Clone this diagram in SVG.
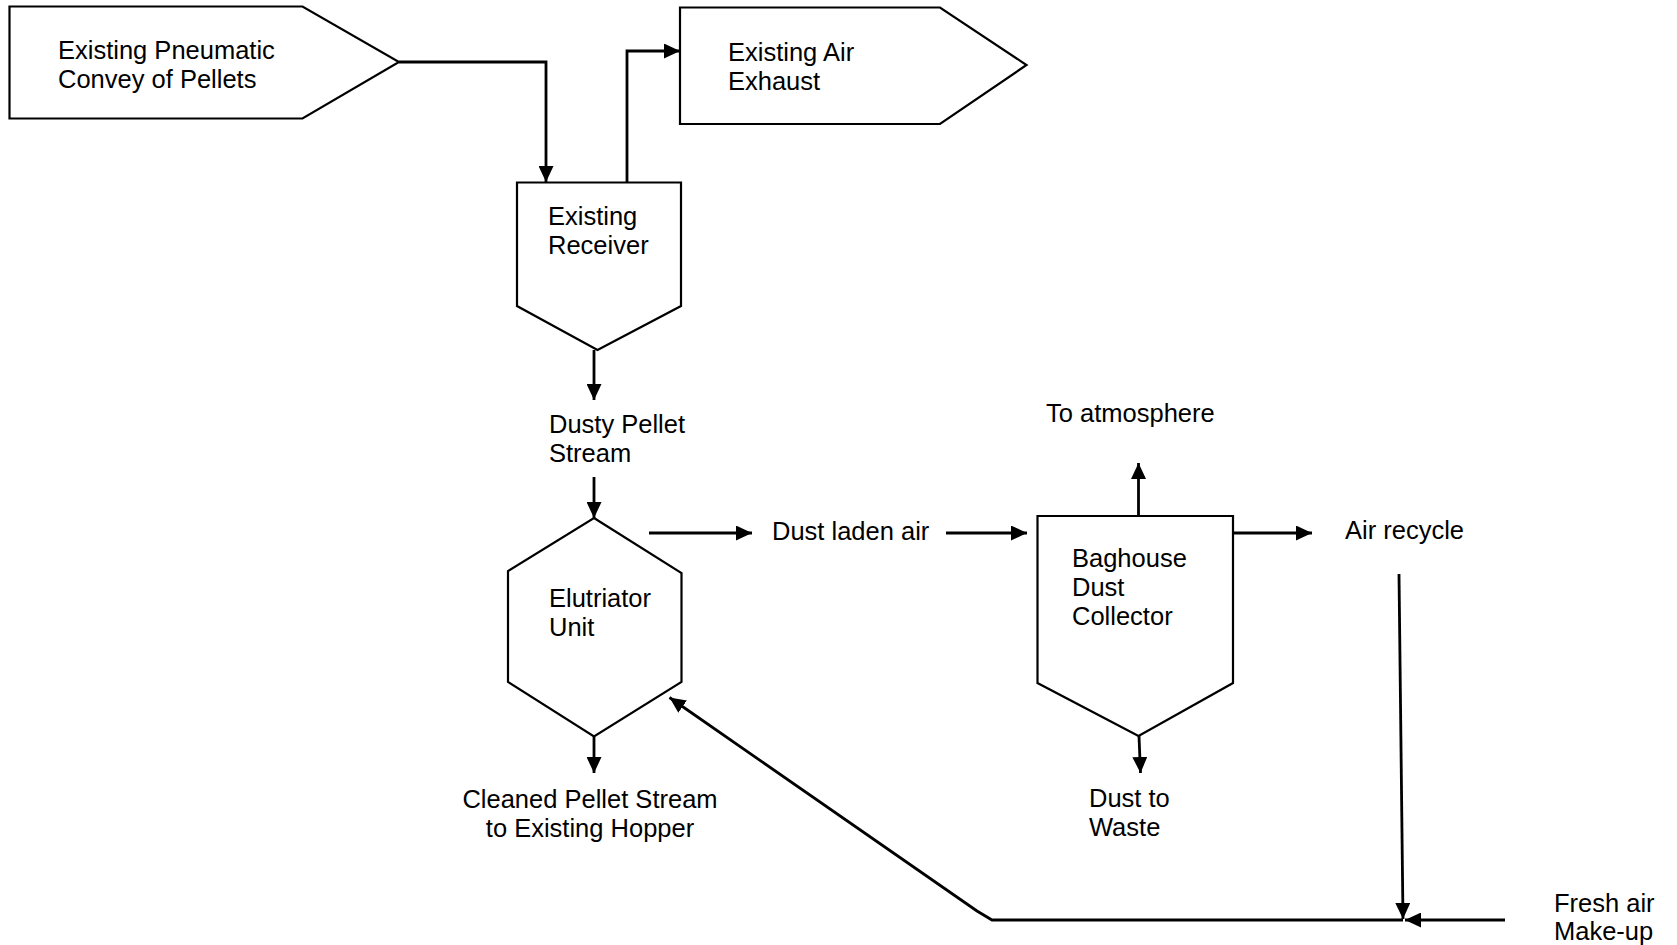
<svg xmlns="http://www.w3.org/2000/svg" width="1677" height="945" viewBox="0 0 1677 945">
<style>
.shape{fill:#fff;stroke:#000;stroke-width:2.2;stroke-linejoin:miter}
.conn{fill:none;stroke:#000;stroke-width:2.8}
text{font-family:"Liberation Sans",Arial,sans-serif;font-size:25.5px;fill:#000}
</style>
<defs>
<marker id="ah" markerUnits="userSpaceOnUse" markerWidth="16" markerHeight="15" refX="16" refY="7.5" orient="auto">
<path d="M0,0 L16,7.5 L0,15 z" fill="#000"/>
</marker>
</defs>
<rect width="1677" height="945" fill="#fff"/>
<g id="pneumatic">
<polygon class="shape" points="9.5,6.5 302.5,6.5 399,62 302.5,118.5 9.5,118.5"/>
<text x="58" y="59">Existing Pneumatic</text>
<text x="58" y="88">Convey of Pellets</text>
</g>
<g id="exhaust">
<polygon class="shape" points="680,7.5 940,7.5 1026.5,65 940,124 680,124"/>
<text x="728" y="61">Existing Air</text>
<text x="728" y="90">Exhaust</text>
</g>
<g id="receiver">
<polygon class="shape" points="517,182.5 681,182.5 681,306 597.5,350 517,306"/>
<text x="548" y="225">Existing</text>
<text x="548" y="254">Receiver</text>
</g>
<g id="dusty">
<text x="549" y="433">Dusty Pellet</text>
<text x="549" y="462">Stream</text>
</g>
<g id="elutriator">
<polygon class="shape" points="594,518 681.5,573 681.5,682 594,736.5 508,682 508,571"/>
<text x="549" y="607">Elutriator</text>
<text x="549" y="636">Unit</text>
</g>
<g id="cleaned">
<text x="590" y="808" text-anchor="middle">Cleaned Pellet Stream</text>
<text x="590" y="837" text-anchor="middle">to Existing Hopper</text>
</g>
<g id="dustladen">
<text x="772" y="540">Dust laden air</text>
</g>
<g id="baghouse">
<polygon class="shape" points="1037.5,516 1233,516 1233,683 1138.5,736 1037.5,683"/>
<text x="1072" y="567">Baghouse</text>
<text x="1072" y="596">Dust</text>
<text x="1072" y="625">Collector</text>
</g>
<g id="atmosphere">
<text x="1046" y="422">To atmosphere</text>
</g>
<g id="airrecycle">
<text x="1345" y="539">Air recycle</text>
</g>
<g id="waste">
<text x="1089" y="807">Dust to</text>
<text x="1089" y="836">Waste</text>
</g>
<g id="freshair">
<text x="1554" y="912">Fresh air</text>
<text x="1554" y="940">Make-up</text>
</g>
<g id="connectors">
<path class="conn" d="M399,62 H546 V182" marker-end="url(#ah)"/>
<path class="conn" d="M627,183 V51 H680" marker-end="url(#ah)"/>
<path class="conn" d="M594,350 V400" marker-end="url(#ah)"/>
<path class="conn" d="M594,477 V518" marker-end="url(#ah)"/>
<path class="conn" d="M594,736.5 V773" marker-end="url(#ah)"/>
<path class="conn" d="M649,533 H752" marker-end="url(#ah)"/>
<path class="conn" d="M946,533 H1027" marker-end="url(#ah)"/>
<path class="conn" d="M1138.5,516 V463" marker-end="url(#ah)"/>
<path class="conn" d="M1233,533 H1312" marker-end="url(#ah)"/>
<path class="conn" d="M1139,736 L1140.5,773" marker-end="url(#ah)"/>
<path class="conn" d="M1399,574 L1403,919" marker-end="url(#ah)"/>
<path class="conn" d="M1505,920 H1405" marker-end="url(#ah)"/>
<path class="conn" d="M1403,920 H992 L977,911 L669.5,697.5" marker-end="url(#ah)"/>
</g>
</svg>
